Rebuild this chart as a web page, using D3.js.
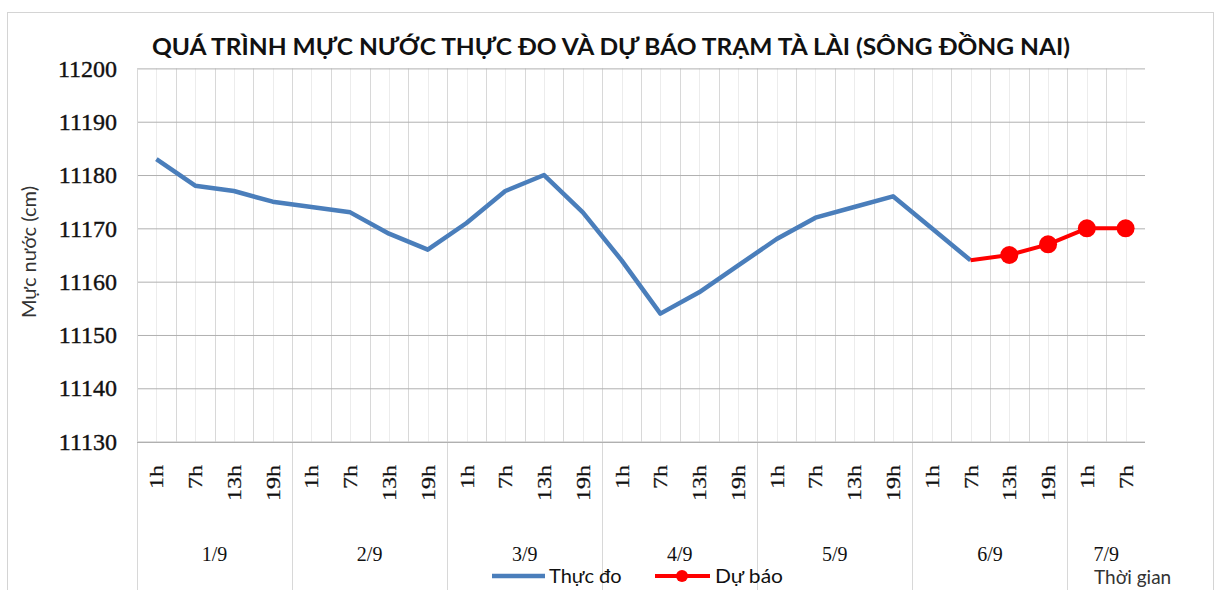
<!DOCTYPE html>
<html>
<head>
<meta charset="utf-8">
<script src="https://cdn.jsdelivr.net/npm/d3@7"></script>
<style>
    body { margin: 0; background: #fff; }
    svg { display: block; }
</style>
</head>
<body>
<div id="chart"></div>
<script>
// Data
const dayLabels = ['1/9', '2/9', '3/9', '4/9', '5/9', '6/9', '7/9'];
const hoursPerDay = [4, 4, 4, 4, 4, 4, 2];
const hourLabels = [
    '1h', '7h', '13h', '19h', '1h', '7h', '13h', '19h', '1h', '7h', '13h', '19h',
    '1h', '7h', '13h', '19h', '1h', '7h', '13h', '19h', '1h', '7h', '13h', '19h',
    '1h', '7h'
];
const measured = [
    11183, 11178, 11177, 11175, 11174, 11173, 11169, 11166, 11171, 11177, 11180, 11173,
    11164, 11154, 11158, 11163, 11168, 11172, 11174, 11176, 11170, 11164, null, null,
    null, null
];
const forecast = [
    null, null, null, null, null, null, null, null, null, null, null, null,
    null, null, null, null, null, null, null, null, null, 11164, 11165, 11167,
    11170, 11170
];
const forecastMarked = [false, false, false, false, false, false, false, false, false, false, false, false,
    false, false, false, false, false, false, false, false, false, false, true, true, true, true];
const yTicks = [11130, 11140, 11150, 11160, 11170, 11180, 11190, 11200];

const COLORS = {
    measured: '#4a7ebb',
    forecast: '#ff0000',
    text: '#111',
    gridH: '#b0b0b0',
    gridMajor: '#d8d8d8',
    gridMinor: '#ececec',
    border: '#d4d4d4'
};
const SERIF = '"Liberation Serif", "DejaVu Serif", serif';
const SANS = 'Lato, "Open Sans", sans-serif';

const W = 1215, H = 590;
const plot = { left: 137, right: 1145, top: 68.4, bottom: 441.6 };

// category keys: "day|index"
const categories = [];
dayLabels.forEach((d, i) => {
    for (let k = 0; k < hoursPerDay[i]; k++) categories.push(d + '|' + categories.length);
});

const svg = d3.select('#chart').append('svg')
    .attr('width', W)
    .attr('height', H);

// chart border
svg.append('rect')
    .attr('x', 7.5).attr('y', 12.5)
    .attr('width', 1206).attr('height', 600)
    .attr('fill', '#fff')
    .attr('stroke', COLORS.border);

const x = d3.scaleBand()
    .domain(categories)
    .range([plot.left, plot.right])
    .padding(0);
const bw = x.bandwidth();
const cx = i => x(categories[i]) + bw / 2;

const y = d3.scaleLinear()
    .domain([yTicks[0], yTicks[yTicks.length - 1]])
    .range([plot.bottom, plot.top]);

// vertical gridlines: band centres (light) and band edges
const grid = svg.append('g').attr('class', 'grid');
grid.selectAll('.vmin')
    .data(categories)
    .enter().append('line')
    .attr('x1', (d, i) => Math.round(cx(i)) + 0.5)
    .attr('x2', (d, i) => Math.round(cx(i)) + 0.5)
    .attr('y1', plot.top).attr('y2', plot.bottom)
    .attr('stroke', COLORS.gridMinor);
grid.selectAll('.vmaj')
    .data(categories.slice(1))
    .enter().append('line')
    .attr('x1', d => Math.round(x(d)) + 0.5)
    .attr('x2', d => Math.round(x(d)) + 0.5)
    .attr('y1', plot.top).attr('y2', plot.bottom)
    .attr('stroke', COLORS.gridMajor);

// horizontal gridlines
svg.append('g')
    .attr('transform', `translate(${plot.left},0)`)
    .call(d3.axisLeft(y).tickValues(yTicks).tickSize(-(plot.right - plot.left)).tickFormat(''))
    .call(g => g.select('.domain').remove())
    .call(g => g.selectAll('line').attr('stroke', COLORS.gridH));

// y axis labels
svg.append('g')
    .attr('transform', `translate(${plot.left},0)`)
    .call(d3.axisLeft(y).tickValues(yTicks).tickSize(0).tickPadding(20).tickFormat(d3.format('d')))
    .call(g => g.select('.domain').remove())
    .call(g => g.selectAll('text')
        .attr('font-family', SERIF)
        .attr('font-size', 24)
        .attr('fill', COLORS.text)
        .attr('stroke', COLORS.text)
        .attr('stroke-width', 0.4));

// left axis line
svg.append('line')
    .attr('x1', plot.left + 0.5).attr('x2', plot.left + 0.5)
    .attr('y1', plot.top).attr('y2', H)
    .attr('stroke', COLORS.gridMajor);

// hour tick labels, rotated
svg.append('g')
    .selectAll('text')
    .data(hourLabels)
    .enter().append('text')
    .attr('transform', (d, i) => `translate(${cx(i) + 7},465) rotate(-90) scale(1,0.75)`)
    .attr('text-anchor', 'end')
    .attr('font-family', SERIF)
    .attr('font-size', 24)
    .attr('fill', COLORS.text)
    .attr('stroke', COLORS.text)
    .attr('stroke-width', 0.3)
    .text(d => d);

// day separators and day labels
let start = 0;
const dayPos = dayLabels.map((d, i) => {
    const s = start;
    start += hoursPerDay[i];
    return { label: d, first: s, last: start - 1 };
});
svg.append('g')
    .selectAll('line')
    .data(dayPos.slice(1))
    .enter().append('line')
    .attr('x1', d => Math.round(x(categories[d.first])) + 0.5)
    .attr('x2', d => Math.round(x(categories[d.first])) + 0.5)
    .attr('y1', plot.bottom).attr('y2', H)
    .attr('stroke', COLORS.gridMajor);
svg.append('g')
    .selectAll('text')
    .data(dayPos)
    .enter().append('text')
    .attr('x', d => (x(categories[d.first]) + x(categories[d.last]) + bw) / 2)
    .attr('y', 561)
    .attr('text-anchor', 'middle')
    .attr('font-family', SERIF)
    .attr('font-size', 20)
    .attr('fill', COLORS.text)
    .text(d => d.label);

// axis baseline
svg.append('line')
    .attr('x1', plot.left).attr('x2', plot.right)
    .attr('y1', Math.round(plot.bottom) + 0.5).attr('y2', Math.round(plot.bottom) + 0.5)
    .attr('stroke', COLORS.gridH);

// lines
const line = d3.line()
    .defined(d => d.v !== null)
    .x(d => cx(d.i))
    .y(d => y(d.v));

svg.append('path')
    .datum(measured.map((v, i) => ({ v, i })))
    .attr('fill', 'none')
    .attr('stroke', COLORS.measured)
    .attr('stroke-width', 4.5)
    .attr('stroke-linejoin', 'round')
    .attr('d', line);

svg.append('path')
    .datum(forecast.map((v, i) => ({ v, i })))
    .attr('fill', 'none')
    .attr('stroke', COLORS.forecast)
    .attr('stroke-width', 4)
    .attr('stroke-linejoin', 'round')
    .attr('d', line);

svg.append('g')
    .selectAll('circle')
    .data(forecast.map((v, i) => ({ v, i })).filter(d => d.v !== null && forecastMarked[d.i]))
    .enter().append('circle')
    .attr('cx', d => cx(d.i))
    .attr('cy', d => y(d.v))
    .attr('r', 9)
    .attr('fill', COLORS.forecast);

// title
svg.append('text')
    .attr('x', 152).attr('y', 55)
    .attr('font-family', SANS)
    .attr('font-weight', 'bold')
    .attr('font-size', 22)
    .attr('fill', COLORS.text)
    .attr('textLength', 918)
    .attr('lengthAdjust', 'spacingAndGlyphs')
    .text('QUÁ TRÌNH MỰC NƯỚC THỰC ĐO VÀ DỰ BÁO TRẠM TÀ LÀI (SÔNG ĐỒNG NAI)');

// y axis title
svg.append('text')
    .attr('transform', 'translate(36,252) rotate(-90)')
    .attr('text-anchor', 'middle')
    .attr('font-family', SANS)
    .attr('font-size', 20)
    .attr('fill', '#333')
    .text('Mực nước (cm)');

// legend
const legend = svg.append('g').attr('class', 'legend');
legend.append('line')
    .attr('x1', 492).attr('x2', 545).attr('y1', 576).attr('y2', 576)
    .attr('stroke', COLORS.measured).attr('stroke-width', 4.5);
legend.append('text')
    .attr('x', 549).attr('y', 583)
    .attr('font-family', SANS).attr('font-size', 20)
    .attr('fill', COLORS.text)
    .text('Thực đo');
legend.append('line')
    .attr('x1', 655).attr('x2', 710).attr('y1', 576).attr('y2', 576)
    .attr('stroke', COLORS.forecast).attr('stroke-width', 4);
legend.append('circle')
    .attr('cx', 682).attr('cy', 576).attr('r', 6)
    .attr('fill', COLORS.forecast);
legend.append('text')
    .attr('x', 715).attr('y', 583)
    .attr('font-family', SANS).attr('font-size', 19)
    .attr('fill', COLORS.text)
    .attr('textLength', 68)
    .attr('lengthAdjust', 'spacingAndGlyphs')
    .text('Dự báo');

// x axis title
svg.append('text')
    .attr('x', 1094).attr('y', 584)
    .attr('font-family', SANS).attr('font-size', 19)
    .attr('fill', '#333')
    .text('Thời gian');
</script>
</body>
</html>
